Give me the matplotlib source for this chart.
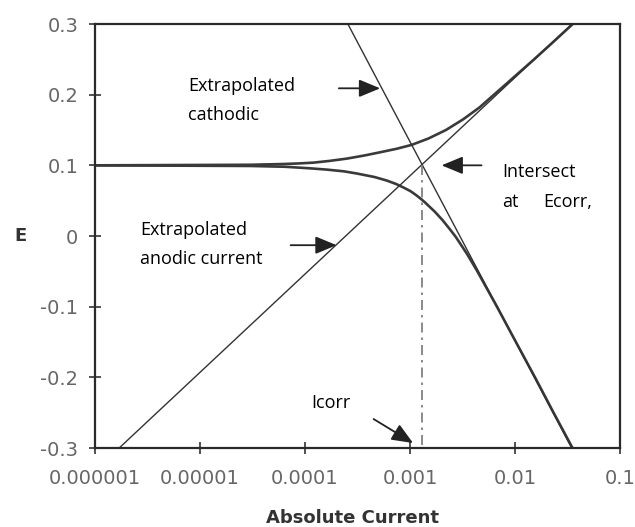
import matplotlib
matplotlib.use("Agg")
import matplotlib.pyplot as plt
from matplotlib.ticker import FixedLocator, NullLocator

# values: current (A) and potential E (V)
# measured anodic branch (upper curve)
anodic_i = [1e-6, 3e-5, 6e-5, 8.5e-5, 1.2e-4, 1.7e-4, 2.5e-4, 3.7e-4, 5.2e-4,
            7.5e-4, 1.04e-3, 1.5e-3, 2.2e-3, 3.2e-3, 4.6e-3, 6.2e-3, 7.87e-3,
            9.8e-3, 1.52e-2, 2.33e-2, 3.55e-2]
anodic_E = [0.100, 0.1008, 0.1018, 0.1026, 0.1038, 0.1062, 0.1095, 0.1140, 0.1185,
            0.1235, 0.129, 0.138, 0.150, 0.165, 0.182, 0.199, 0.2125,
            0.225, 0.250, 0.275, 0.300]

# measured cathodic branch (lower curve)
cath_i = [1e-6, 3e-5, 6.4e-5, 1.11e-4, 1.6e-4, 2.35e-4, 3.1e-4, 4.58e-4, 6.0e-4,
          7.4e-4, 8.7e-4, 1.01e-3, 1.14e-3, 1.27e-3, 1.39e-3, 1.72e-3,
          2.04e-3, 2.37e-3, 2.72e-3, 3.48e-3, 4.38e-3, 6.73e-3, 1.02e-2,
          1.55e-2, 2.33e-2, 3.53e-2]
cath_E = [0.100, 0.0991, 0.0980, 0.0958, 0.0940, 0.0915, 0.0885, 0.0835, 0.0785,
          0.0735, 0.0685, 0.0635, 0.058, 0.0525, 0.0475, 0.0345,
          0.0225, 0.0105, -0.001, -0.025, -0.050, -0.100, -0.150,
          -0.200, -0.250, -0.300]

# extrapolated Tafel lines (end points)
tafel_a_i = [1.7e-6, 3.5e-2]
tafel_a_E = [-0.3, 0.3]
tafel_c_i = [2.56e-4, 3.47e-2]
tafel_c_E = [0.3, -0.3]

icorr = 1.3e-3
ecorr = 0.1

xticks = [1e-6, 1e-5, 1e-4, 1e-3, 1e-2, 1e-1]
xtick_labels = ['0.000001', '0.00001', '0.0001', '0.001', '0.01', '0.1']
yticks = [-0.3, -0.2, -0.1, 0, 0.1, 0.2, 0.3]
ytick_labels = ['-0.3', '-0.2', '-0.1', '0', '0.1', '0.2', '0.3']

# text labels: (text, x, y)
notes = [('Extrapolated', 7.7e-6, 0.212),
         ('cathodic', 7.7e-6, 0.171),
         ('Extrapolated', 2.7e-6, 0.008),
         ('anodic current', 2.7e-6, -0.032),
         ('Intersect', 7.5e-3, 0.090),
         ('at', 7.5e-3, 0.048),
         ('Ecorr,', 1.85e-2, 0.048),
         ('Icorr', 1.15e-4, -0.236)]

# arrows: (tail, head)
arrows = [((2.1e-4, 0.209), (5.2e-4, 0.209)),
          ((4.8e-3, 0.100), (2.0e-3, 0.100)),
          ((7.3e-5, -0.013), (2.0e-4, -0.013)),
          ((4.5e-4, -0.259), (1.07e-3, -0.293))]


def main():
    fig = plt.figure(figsize=(6.35, 5.27), dpi=100)
    ax = fig.add_axes([95 / 635, 1 - 448 / 527, 525 / 635, 424 / 527])

    ax.set_xscale('log')
    ax.set_xlim(1e-6, 1e-1)
    ax.set_ylim(-0.3, 0.3)

    ax.plot(anodic_i, anodic_E, color='#3a3a3a', lw=1.9, solid_capstyle='round',
            solid_joinstyle='round')
    ax.plot(cath_i, cath_E, color='#3a3a3a', lw=1.9, solid_capstyle='round',
            solid_joinstyle='round')
    ax.plot(tafel_a_i, tafel_a_E, color='#333333', lw=1.0)
    ax.plot(tafel_c_i, tafel_c_E, color='#333333', lw=1.0)
    ax.plot([icorr, icorr], [ecorr, -0.3], color='#777777', lw=1.2,
            linestyle=(0, (6, 3, 1.5, 3)))

    for txt, x, y in notes:
        ax.text(x, y, txt, fontsize=13, family='Open Sans', color='black',
                ha='left', va='center')

    for tail, head in arrows:
        ax.annotate('', xy=head, xytext=tail,
                    arrowprops=dict(arrowstyle='-|>,head_length=0.65,head_width=0.27',
                                    mutation_scale=20, color='#222222', lw=1.3,
                                    shrinkA=0, shrinkB=0))

    ax.xaxis.set_major_locator(FixedLocator(xticks))
    ax.xaxis.set_minor_locator(NullLocator())
    ax.set_xticklabels(xtick_labels)
    ax.set_yticks(yticks)
    ax.set_yticklabels(ytick_labels)

    ax.tick_params(axis='both', direction='inout', length=8, width=1.2,
                   colors='#333333', labelcolor='#666666', labelsize=14)
    ax.tick_params(axis='x', pad=11)
    ax.tick_params(axis='y', pad=8)

    for s in ax.spines.values():
        s.set_linewidth(1.6)
        s.set_color('#2a2a2a')

    ax.set_xlabel('Absolute Current', fontsize=13, fontweight='bold', color='#333333')
    ax.xaxis.set_label_coords(0.49, -0.145)
    ax.set_ylabel('E', fontsize=13, fontweight='bold', color='#333333', rotation=0,
                  va='center')
    ax.yaxis.set_label_coords(-0.141, 0.5)

    fig.savefig('out.png', dpi=100)


if __name__ == '__main__':
    main()
